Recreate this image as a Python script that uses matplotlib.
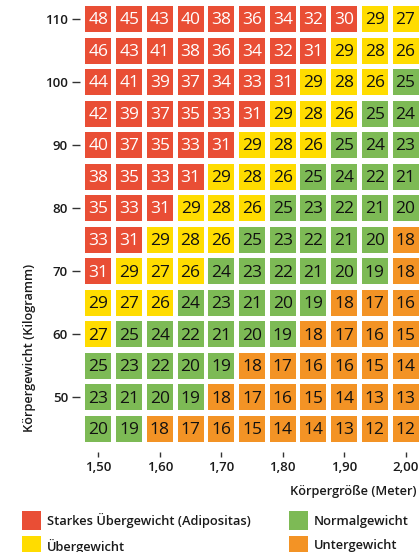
import matplotlib
matplotlib.use("Agg")
import matplotlib.pyplot as plt
from matplotlib.patches import Rectangle

heights = [1.50, 1.55, 1.60, 1.65, 1.70, 1.75, 1.80, 1.85, 1.90, 1.95, 2.00]
weights = [110, 105, 100, 95, 90, 85, 80, 75, 70, 65, 60, 55, 50, 45]
bmi = [
    [48, 45, 43, 40, 38, 36, 34, 32, 30, 29, 27],
    [46, 43, 41, 38, 36, 34, 32, 31, 29, 28, 26],
    [44, 41, 39, 37, 34, 33, 31, 29, 28, 26, 25],
    [42, 39, 37, 35, 33, 31, 29, 28, 26, 25, 24],
    [40, 37, 35, 33, 31, 29, 28, 26, 25, 24, 23],
    [38, 35, 33, 31, 29, 28, 26, 25, 24, 22, 21],
    [35, 33, 31, 29, 28, 26, 25, 23, 22, 21, 20],
    [33, 31, 29, 28, 26, 25, 23, 22, 21, 20, 18],
    [31, 29, 27, 26, 24, 23, 22, 21, 20, 19, 18],
    [29, 27, 26, 24, 23, 21, 20, 19, 18, 17, 16],
    [27, 25, 24, 22, 21, 20, 19, 18, 17, 16, 15],
    [25, 23, 22, 20, 19, 18, 17, 16, 16, 15, 14],
    [23, 21, 20, 19, 18, 17, 16, 15, 14, 13, 13],
    [20, 19, 18, 17, 16, 15, 14, 14, 13, 12, 12],
]
xticks = [1.50, 1.60, 1.70, 1.80, 1.90, 2.00]
xticklabels = ["1,50", "1,60", "1,70", "1,80", "1,90", "2,00"]
yticks = [110, 100, 90, 80, 70, 60, 50]
categories = ["Starkes Übergewicht (Adipositas)", "Übergewicht", "Normalgewicht", "Untergewicht"]
cat_colors = ["#E94E35", "#FFDC00", "#7DBA55", "#F39325"]
cat_text = ["white", "#111111", "#111111", "#111111"]

def category(v):
    if v >= 30:
        return 0
    if v >= 26:
        return 1
    if v >= 19:
        return 2
    return 3

FONT = ["Open Sans", "DejaVu Sans"]
plt.rcParams["font.family"] = FONT
PX = 72 / 100.0  # points per pixel

fig = plt.figure(figsize=(4.2, 5.52), dpi=100)
ax = fig.add_axes([84 / 420, 1 - 443 / 552, 335 / 420, 438 / 552])

cw = 26 / 614.0
ch = 26 / 6.31
for i, w in enumerate(weights):
    for j, h in enumerate(heights):
        v = bmi[i][j]
        c = category(v)
        ax.bar(h, ch, bottom=w - ch / 2, width=cw, color=cat_colors[c], linewidth=0)
        ax.text(h, w - 0.2, str(v), ha="center", va="center", fontsize=12.5,
                color=cat_text[c], fontweight="medium")

ax.set_xlim(1.50 - 14.5 / 614, 2.00 + 13.5 / 614)
ax.set_ylim(45 - 14 / 6.31, 110 + 14 / 6.31)
for s in ax.spines.values():
    s.set_visible(False)
ax.spines["bottom"].set_position(("outward", 9 * PX))
ax.spines["left"].set_position(("outward", 4 * PX))
ax.set_xticks(xticks)
ax.set_xticklabels(xticklabels)
ax.set_yticks(yticks)
ax.set_yticklabels([str(t) for t in yticks])
ax.tick_params(axis="x", length=5 * PX, width=1, color="#333333", pad=4 * PX, labelsize=9.5)
ax.tick_params(axis="y", length=8 * PX, width=1, color="#333333", pad=4 * PX, labelsize=9.5)
for lab in ax.get_xticklabels() + ax.get_yticklabels():
    lab.set_fontweight("semibold")
    lab.set_color("#1a1a1a")

fig.text(417 / 420, 1 - 492 / 552, "Körpergröße (Meter)", ha="right", va="center",
         fontsize=9.2, fontweight="semibold", color="#1a1a1a")
fig.text(30 / 420, 1 - 348 / 552, "Körpergewicht (Kilogramm)", ha="center", va="center",
         rotation=90, fontsize=9.2, fontweight="semibold", color="#1a1a1a")

legend_pos = [(22, 511), (22, 536), (289, 511), (289, 536)]
for k, (lx, ly) in enumerate(legend_pos):
    fig.add_artist(Rectangle((lx / 420, 1 - (ly + 19) / 552), 19 / 420, 19 / 552,
                             transform=fig.transFigure, facecolor=cat_colors[k], linewidth=0))
    fig.text((lx + 25) / 420, 1 - (ly + 10) / 552, categories[k], ha="left", va="center",
             fontsize=9.3, fontweight="semibold", color="#1a1a1a")

fig.savefig("out.png", dpi=100)
